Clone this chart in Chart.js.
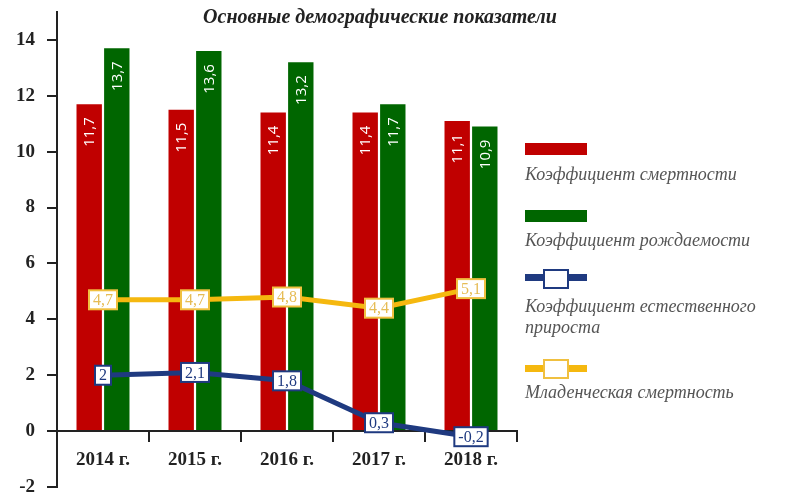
<!DOCTYPE html>
<html>
<head>
<meta charset="utf-8">
<script src="https://cdn.jsdelivr.net/npm/chart.js@4.4.0/dist/chart.umd.min.js"></script>
<style>
  body { margin: 0; background: #fff; }
  #wrap { position: relative; width: 800px; height: 497px; }
  #title {
    position: absolute; left: 180px; width: 400px; top: 5px; text-align: center;
    font: italic bold 20px "Liberation Serif", serif; color: #222;
  }
  .leg { position: absolute; left: 525px; font: italic 18px "Liberation Serif", serif; color: #555; line-height: 21px; }
  .sw { position: absolute; left: 525px; width: 62px; height: 12px; }
  .ln { position: absolute; left: 525px; width: 62px; height: 7px; }
  .bx { position: absolute; left: 543px; width: 22px; height: 16px; background: #fff; border: 2px solid; }
</style>
</head>
<body>
<div id="wrap">
  <canvas id="myChart" width="800" height="497"></canvas>
  <div id="title">Основные демографические показатели</div>

  <div class="sw" style="top:143px;background:#C00000"></div>
  <div class="leg" style="top:164px">Коэффициент смертности</div>

  <div class="sw" style="top:210px;background:#006600"></div>
  <div class="leg" style="top:230px">Коэффициент рождаемости</div>

  <div class="ln" style="top:274px;background:#1F3A80"></div>
  <div class="bx" style="top:269px;border-color:#1F3A80"></div>
  <div class="leg" style="top:296px">Коэффициент естественного<br>прироста</div>

  <div class="ln" style="top:365px;background:#F5B80F"></div>
  <div class="bx" style="top:359px;border-color:#F0C040"></div>
  <div class="leg" style="top:382px">Младенческая смертность</div>
</div>
<script>
// Данные
const years = ['2014 г.', '2015 г.', '2016 г.', '2017 г.', '2018 г.'];
const mortality = [11.7, 11.5, 11.4, 11.4, 11.1];
const birthRate = [13.7, 13.6, 13.2, 11.7, 10.9];
const naturalGrowth = [2, 2.1, 1.8, 0.3, -0.2];
const infantMortality = [4.7, 4.7, 4.8, 4.4, 5.1];
const yTicks = [-2, 0, 2, 4, 6, 8, 10, 12, 14];

const fmt = v => String(v).replace('.', ',');

// Подписи внутри столбцов (вертикально) и рамки у точек линий
const labelsPlugin = {
  id: 'labelsPlugin',
  afterDatasetsDraw(chart) {
    const ctx = chart.ctx;
    chart.data.datasets.forEach((ds, i) => {
      const meta = chart.getDatasetMeta(i);
      meta.data.forEach((el, j) => {
        const txt = fmt(ds.data[j]);
        ctx.save();
        if (ds.type === 'bar') {
          ctx.translate(el.x, el.y + 13);
          ctx.rotate(-Math.PI / 2);
          ctx.font = '15px "Open Sans", sans-serif';
          ctx.fillStyle = '#fff';
          ctx.textAlign = 'right';
          ctx.textBaseline = 'middle';
          ctx.fillText(txt, 0, 1);
        } else {
          ctx.font = '16px "Liberation Serif", serif';
          const w = ctx.measureText(txt).width + 8;
          const h = 19;
          ctx.fillStyle = '#fff';
          ctx.fillRect(el.x - w / 2, el.y - h / 2, w, h);
          ctx.lineWidth = 2;
          ctx.strokeStyle = ds.boxColor;
          ctx.strokeRect(el.x - w / 2, el.y - h / 2, w, h);
          ctx.fillStyle = ds.textColor;
          ctx.textAlign = 'center';
          ctx.textBaseline = 'middle';
          ctx.fillText(txt, el.x, el.y + 1);
        }
        ctx.restore();
      });
    });
  }
};

const ctx = document.getElementById('myChart').getContext('2d');

new Chart(ctx, {
  data: {
    labels: years,
    datasets: [
      {
        type: 'line', label: 'Коэффициент естественного прироста', data: naturalGrowth,
        borderColor: '#1F3A80', borderWidth: 5, pointRadius: 0, tension: 0, order: 1,
        boxColor: '#1F3A80', textColor: '#1F3A80'
      },
      {
        type: 'line', label: 'Младенческая смертность', data: infantMortality,
        borderColor: '#F5B80F', borderWidth: 5, pointRadius: 0, tension: 0, order: 1,
        boxColor: '#F0C040', textColor: '#E6BC55'
      },
      {
        type: 'bar', label: 'Коэффициент смертности', data: mortality,
        backgroundColor: '#C00000', categoryPercentage: 0.6, barPercentage: 0.92, order: 2
      },
      {
        type: 'bar', label: 'Коэффициент рождаемости', data: birthRate,
        backgroundColor: '#006600', categoryPercentage: 0.6, barPercentage: 0.92, order: 2
      }
    ]
  },
  options: {
    responsive: false,
    animation: false,
    layout: { padding: { left: 0, right: 283, top: 12, bottom: 10 } },
    plugins: { legend: { display: false }, tooltip: { enabled: false } },
    scales: {
      x: {
        position: { y: 0 },
        grid: { display: true, drawOnChartArea: false, drawTicks: true, tickLength: 10, color: '#222', lineWidth: 2, offset: true },
        border: { display: true, color: '#222', width: 2 },
        ticks: { color: '#222', font: { family: 'Liberation Serif', size: 19, weight: 'bold' }, padding: 8 }
      },
      y: {
        min: -2, max: 15,
        afterBuildTicks: s => { s.ticks = yTicks.map(v => ({ value: v })); },
        afterFit: s => { s.width = 57; s.paddingTop = 0; s.paddingBottom = 0; },
        grid: { display: true, drawOnChartArea: false, drawTicks: true, tickLength: 10, color: '#222', lineWidth: 2 },
        border: { display: true, color: '#222', width: 2 },
        ticks: { color: '#222', font: { family: 'Liberation Serif', size: 19, weight: 'bold' }, padding: 12 }
      }
    }
  },
  plugins: [labelsPlugin]
});
</script>
</body>
</html>
